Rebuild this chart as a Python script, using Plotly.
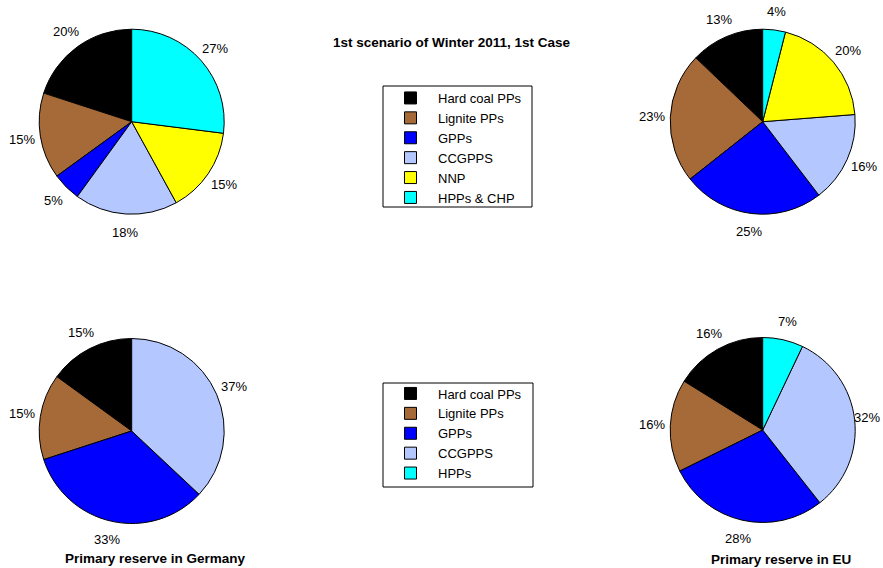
import math
import plotly.graph_objects as go

# ---- data ----
labels_top = ["Hard coal PPs", "Lignite PPs", "GPPs", "CCGPPS", "NNP", "HPPs & CHP"]
colors_top = ["#000000", "#A66A38", "#0000FF", "#B4C8FF", "#FFFF00", "#00FFFF"]
values_top_left = [20, 15, 5, 18, 15, 27]
values_top_right = [13, 23, 25, 16, 20, 4]

labels_bottom = ["Hard coal PPs", "Lignite PPs", "GPPs", "CCGPPS", "HPPs"]
colors_bottom = ["#000000", "#A66A38", "#0000FF", "#B4C8FF", "#00FFFF"]
labels_germany = ["Hard coal PPs", "Lignite PPs", "GPPs", "CCGPPS"]
colors_germany = ["#000000", "#A66A38", "#0000FF", "#B4C8FF"]
values_germany = [15, 15, 33, 37]
values_eu = [16, 16, 28, 32, 7]

title_text = "1st scenario of Winter 2011, 1st Case"
caption_germany = "Primary reserve in Germany"
caption_eu = "Primary reserve in EU"

W, H = 883, 568
FONT = "Liberation Sans, Arial, Helvetica, sans-serif"
R = 92.5
LABEL_SIZE = 13


def px(x):
    return x / W


def py(y):
    return 1 - y / H


def dom(cx, cy, r):
    return dict(x=[px(cx - r), px(cx + r)], y=[py(cy + r), py(cy - r)])


def pie(labels, values, colors, cx, cy, legend, group):
    # first slice starts at 12 o'clock and the slices run counterclockwise
    start = -360.0 * values[0] / sum(values)
    return go.Pie(
        labels=labels, values=values, sort=False, direction="counterclockwise", rotation=start,
        marker=dict(colors=colors, line=dict(color="black", width=1)),
        textinfo="none", domain=dom(cx, cy, R), legend=legend, legendgroup=group,
        hoverinfo="label+percent",
    )


def pct_labels(values, cx, cy):
    """Percent labels centred at 1.2 radii along each slice's mid angle."""
    total = float(sum(values))
    out, cum = [], 0.0
    for v in values:
        mid = (cum + v / 2.0) / total * 2 * math.pi  # counterclockwise from 12 o'clock
        cum += v
        x = cx - 1.2 * R * math.sin(mid)
        y = cy - 1.2 * R * math.cos(mid)
        text = "%d%%" % round(100 * v / total)
        half = 0.3 * LABEL_SIZE * len(text)
        anchor = "center"
        if x + half > W - 1:  # keep the label inside the page
            x, anchor = W - 1, "right"
        out.append(dict(text=text, x=px(x), y=py(y),
                        xref="paper", yref="paper", showarrow=False,
                        xanchor=anchor, yanchor="middle",
                        font=dict(family=FONT, size=LABEL_SIZE, color="black")))
    return out


pies = [
    (labels_top, values_top_left, colors_top, 131.7, 121.7, "legend", "top"),
    (labels_top, values_top_right, colors_top, 762.7, 121.7, "legend", "top"),
    (labels_germany, values_germany, colors_germany, 131.7, 431, "legend2", "bottom"),
    (labels_bottom, values_eu, colors_bottom, 762.7, 430, "legend2", "bottom"),
]

fig = go.Figure()
annotations = []
for lab, val, col, cx, cy, lg, grp in pies:
    fig.add_trace(pie(lab, val, col, cx, cy, lg, grp))
    annotations += pct_labels(val, cx, cy)

legend_style = dict(
    bgcolor="rgba(0,0,0,0)", borderwidth=0,
    font=dict(family=FONT, size=13, color="black"),
    itemwidth=45, tracegroupgap=0, xanchor="left", yanchor="top", itemclick=False,
)


def frame(x0, y0, x1, y1):
    return dict(type="rect", xref="paper", yref="paper", x0=px(x0), x1=px(x1),
                y0=py(y1), y1=py(y0), line=dict(color="black", width=1),
                fillcolor="white", layer="below")


def bold_text(text, x, y):
    return dict(text="<b>" + text + "</b>", x=px(x), y=py(y), xref="paper", yref="paper",
                showarrow=False, xanchor="center", yanchor="middle",
                font=dict(family=FONT, size=13.5, color="black"))


annotations += [
    bold_text(title_text, 451.5, 42.7),
    bold_text(caption_germany, 155.5, 558),
    bold_text(caption_eu, 780.5, 559),
]

fig.update_layout(
    width=W, height=H, margin=dict(l=0, r=0, t=0, b=0),
    paper_bgcolor="white", plot_bgcolor="white",
    font=dict(family=FONT, size=13, color="black"),
    showlegend=True,
    legend=dict(x=px(383), y=py(83), **legend_style),
    legend2=dict(x=px(383), y=py(378.5), **legend_style),
    shapes=[frame(383, 86, 532, 207), frame(383, 383, 533, 487)],
    annotations=annotations,
)

fig.write_html(
    "out.html",
    config={"displayModeBar": False},
    post_script="document.body.style.margin='0';document.body.style.overflow='hidden';",
)
